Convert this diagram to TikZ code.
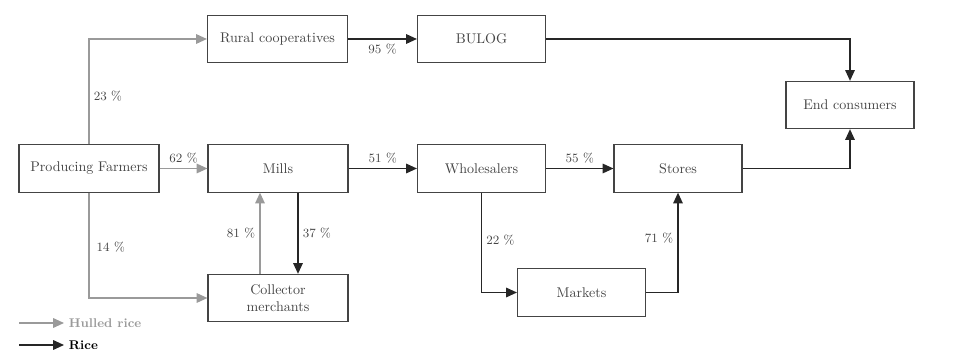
\documentclass[tikz,border=0pt]{standalone}
\usepackage{xcolor}
\usepackage{tikz}
\usetikzlibrary{positioning,arrows.meta}

\definecolor{hulledgray}{HTML}{9A9A9A}
\definecolor{boxgray}{HTML}{444444}

\begin{document}
\begin{tikzpicture}[x=0.025cm,y=-0.025cm,
	actor/.style={draw=boxgray,line width=0.8pt,text=boxgray,minimum width=3.2cm,minimum height=1.18cm,align=center,inner sep=2pt},
	wide/.style={minimum width=3.5cm},
	hulled/.style={draw=hulledgray,line width=0.9pt,-{Triangle[length=0.27cm,width=0.24cm]}},
	rice/.style={draw=black!85,line width=0.9pt,-{Triangle[length=0.27cm,width=0.24cm]}},
	share/.style={text=boxgray,font=\small,inner sep=3pt}]
	\useasboundingbox (0,0) rectangle (975,354);
	\node[actor,wide] (farmers) at (89,168.5) {Producing Farmers};
	\node[actor,wide] (coops) at (277.5,39) {Rural cooperatives};
	\node[actor,wide] (mills) at (278,168.5) {Mills};
	\node[actor,wide] (collector) at (278,298) {Collector\\merchants};
	\node[actor] (bulog) at (481.5,39) {BULOG};
	\node[actor] (wholesalers) at (481.5,168.5) {Wholesalers};
	\node[actor] (stores) at (678,168.5) {Stores};
	\node[actor] (markets) at (581.5,292.5) {Markets};
	\node[actor] (consumers) at (850,105) {End consumers};
	\draw[hulled] (farmers.north) |- node[share,pos=0.23,right]{23 \%} (coops.west);
	\draw[hulled] (farmers.east) -- node[share,above]{62 \%} (mills.west);
	\draw[hulled] (farmers.south) |- node[share,pos=0.26,right=2pt]{14 \%} (collector.west);
	\draw[hulled] (collector.north -| 260,0) -- node[share,left]{81 \%} (mills.south -| 260,0);
	\draw[rice] (mills.south -| 298,0) -- node[share,right]{37 \%} (collector.north -| 298,0);
	\draw[rice] (coops.east) -- node[share,below]{95 \%} (bulog.west);
	\draw[rice] (mills.east) -- node[share,above]{51 \%} (wholesalers.west);
	\draw[rice] (bulog.east) -| (consumers.north);
	\draw[rice] (wholesalers.east) -- node[share,above]{55 \%} (stores.west);
	\draw[rice] (wholesalers.south) |- node[share,pos=0.24,right]{22 \%} (markets.west);
	\draw[rice] (markets.east) -| node[share,pos=0.77,left]{71 \%} (stores.south);
	\draw[rice] (stores.east) -| (consumers.south);
	\coordinate (hulledkey) at (19,323);
	\coordinate (ricekey) at (19,345);
	\node[anchor=west,text=hulledgray,font=\small\bfseries] (hulledtext) at (64,323) {Hulled rice};
	\node[anchor=west,text=black,font=\small\bfseries] (ricetext) at (64,345) {Rice};
	\draw[hulled] (hulledkey) -- (hulledtext.west);
	\draw[rice] (ricekey) -- (ricetext.west);
\end{tikzpicture}
\end{document}
